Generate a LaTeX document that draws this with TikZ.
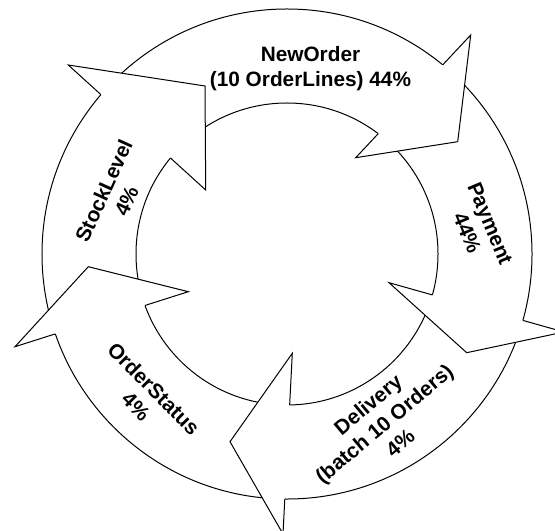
\documentclass[tikz,border=0pt]{standalone}
\usepackage{fontspec}
\setmainfont{Liberation Sans}
\usetikzlibrary{intersections}

% One chevron head laid over the ring: #1 name, #2 outer barb, #3 tip, #4 inner barb
\newcommand\ringhead[4]{%
  \coordinate (#1-ob) at #2;
  \coordinate (#1-tip) at #3;
  \coordinate (#1-ib) at #4;
  \path[name path=#1-base] (#1-ob) -- (#1-ib);
  \path[name intersections={of=outer and #1-base, by={#1-on}}];
  \path[name intersections={of=inner and #1-base, by={#1-in}}];
  \fill[white] (#1-ob) -- (#1-tip) -- (#1-ib) -- cycle;
  \draw[headline] (#1-on) -- (#1-ob) -- (#1-tip) -- (#1-ib) -- (#1-in);
}

\begin{document}
\begin{tikzpicture}[x=1bp, y=-1bp,
  ringline/.style={line width=1bp, black},
  headline/.style={line width=1bp, black, line join=miter, miter limit=10},
  lbl/.style={font=\fontsize{20.8bp}{25bp}\selectfont\bfseries,
              align=center, inner sep=0pt, text=black}]
  \useasboundingbox (0,0) rectangle (555,531);
  \clip (0,0) rectangle (555,531);
  \fill[white] (0,0) rectangle (555,531);

  % the ring: two concentric circles
  \coordinate (c) at (287,254);
  \draw[ringline, name path=outer] (c) circle[radius=245bp];
  \draw[ringline, name path=inner] (c) circle[radius=151bp];

  % arrow heads, clockwise
  \ringhead{neworder}{(470.7,35)}{(457.7,141.7)}{(355.7,157.7)}
  \ringhead{payment}{(564,332)}{(466.7,352.7)}{(389,282.7)}
  \ringhead{delivery}{(283,534)}{(230,441.7)}{(292.3,353.3)}
  \ringhead{orderstatus}{(15,346.7)}{(88.3,266.7)}{(188.3,291.7)}
  \ringhead{stocklevel}{(68.3,65)}{(205,86)}{(205.7,190)}

  % labels
  \node[lbl] (tNewOrder) at (310.5,69) {NewOrder\\(10 OrderLines) 44\%};
  \node[lbl, rotate=-67.5] (tPayment) at (478.7,228.3) {Payment\\44\%};
  \node[lbl, rotate=40] (tDelivery) at (384,423.5) {Delivery\\(batch 10 Orders)\\4\%};
  \node[lbl, rotate=-45] (tOrderStatus) at (145,397.5) {OrderStatus\\4\%};
  \node[lbl, rotate=65.5] (tStockLevel) at (115,196) {StockLevel\\4\%};
\end{tikzpicture}
\end{document}
